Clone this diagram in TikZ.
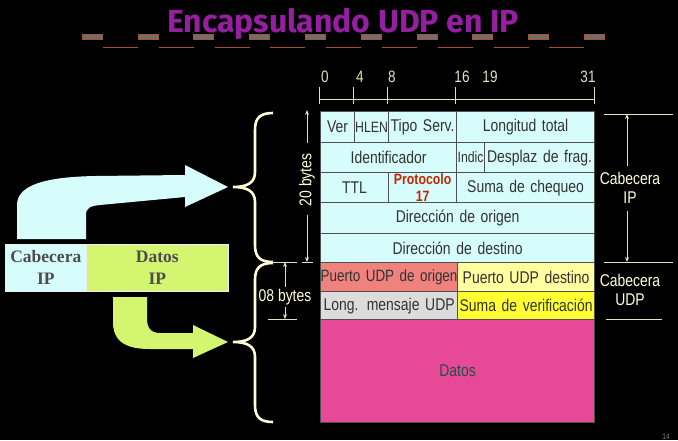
\documentclass[tikz,border=0pt]{standalone}
\usepackage{fontspec}
\setmainfont[FakeStretch=0.82]{Liberation Sans}
\newfontfamily\serifbold[FakeStretch=1.0]{Liberation Serif}
\newfontfamily\titlefont{Fira Sans}
\usetikzlibrary{arrows.meta}
\definecolor{hdrcyan}{RGB}{215,252,252}
\definecolor{greenish}{RGB}{212,245,112}
\definecolor{salmonc}{RGB}{240,130,125}
\definecolor{lightyel}{RGB}{255,255,160}
\definecolor{lgray}{RGB}{220,220,220}
\definecolor{yelc}{RGB}{255,255,50}
\definecolor{pinkd}{RGB}{232,72,152}
\definecolor{cellborder}{RGB}{80,80,80}
\definecolor{celltext}{RGB}{50,50,50}
\definecolor{cream}{RGB}{255,255,215}
\definecolor{khaki}{RGB}{225,225,190}
\definecolor{titlepurple}{RGB}{150,30,160}
\definecolor{dashgray}{RGB}{110,110,110}
\definecolor{dashbrown}{RGB}{160,85,55}
\definecolor{protred}{RGB}{190,40,0}
\definecolor{datostext}{RGB}{30,80,70}
\definecolor{boxtext}{RGB}{77,77,77}
\tikzset{
  cell/.style={draw=cellborder, line width=1.2pt, inner sep=0pt, anchor=north west,
    text=celltext, font=\fontsize{17}{19}\selectfont, align=center},
  cw/.style={minimum width=#1, text width=#1},
  ch/.style={minimum height=#1},
  lbl/.style={text=cream, font=\fontsize{17}{19}\selectfont, align=center, inner sep=0pt},
  rulenum/.style={text=khaki, font=\fontsize{16.5}{18}\selectfont, inner sep=0pt},
  dimline/.style={draw=khaki, line width=0.8pt},
  dimarrow/.style={draw=khaki, line width=0.8pt, -{Stealth[length=5pt,width=4pt]}},
  bracepath/.style={draw=cream, line width=2.6pt},
  ipbox/.style={draw=white!85!gray, line width=0.6pt, inner sep=0pt, anchor=north west,
    text=boxtext, font=\serifbold\bfseries\fontsize{17.5}{22}\selectfont, align=center, minimum height=47},
}
\begin{document}
\begin{tikzpicture}[x=1pt,y=-1pt]
\useasboundingbox (0,0) rectangle (678,440);
\fill[black] (0,0) rectangle (678,440);
% title
\node[font=\titlefont\bfseries\fontsize{32}{38}\selectfont, text=titlepurple, anchor=base, inner sep=0pt] (title) at (343,32) {Encapsulando UDP en IP};
\foreach \k in {0,...,9}{
  \fill[dashgray, draw=dashbrown, line width=0.5pt] ({82+55.8*\k},34.5) rectangle ({102+55.8*\k},39.5);
}
\foreach \k in {0,...,8}{
  \draw[dashbrown, line width=1.6pt] ({103+55.8*\k},47.5) -- ({138+55.8*\k},47.5);
}
% ruler
\coordinate (r0) at (319,99);
\coordinate (r31) at (594,99);
\draw[dimline] (r0) -- (r31);
\foreach \xx in {319,353,387,455,594}{
  \draw[dimline] (\xx,87) -- (\xx,104);
}
\node[rulenum] (n0) at (325,77) {0};
\node[rulenum] (n4) at (360,77) {4};
\node[rulenum] (n8) at (392,77) {8};
\node[rulenum] (n16) at (462,77) {16};
\node[rulenum] (n19) at (490,77) {19};
\node[rulenum] (n31) at (588,77) {31};
% table rows
\node[cell, fill=hdrcyan, cw=34, ch=31] (ver) at (320,111) {Ver};
\node[cell, fill=hdrcyan, cw=34, ch=31, font=\fontsize{15}{17}\selectfont] (hlen) at (354,111) {HLEN};
\node[cell, fill=hdrcyan, cw=68, ch=31] (tipo) at (388,111) {Tipo Serv.};
\node[cell, fill=hdrcyan, cw=138, ch=31] (long) at (456,111) {Longitud total};
\node[cell, fill=hdrcyan, cw=136, ch=30] (ident) at (320,142) {Identificador};
\node[cell, fill=hdrcyan, cw=28, ch=30, font=\fontsize{15}{17}\selectfont] (indic) at (456,142) {Indic};
\node[cell, fill=hdrcyan, cw=110, ch=30] (despl) at (484,142) {Desplaz de frag.};
\node[cell, fill=hdrcyan, cw=68, ch=30] (ttl) at (320,172) {TTL};
\node[cell, fill=hdrcyan, cw=68, ch=30, text=protred, font=\bfseries\fontsize{15}{17.5}\selectfont] (prot) at (388,172) {Protocolo\\17};
\node[cell, fill=hdrcyan, cw=138, ch=30] (suma) at (456,172) {Suma de chequeo};
\node[cell, fill=hdrcyan, cw=274, ch=31] (orig) at (320,202) {Dirección de origen};
\node[cell, fill=hdrcyan, cw=274, ch=29] (dest) at (320,233) {Dirección de destino};
\node[cell, fill=salmonc, cw=137, ch=29, font=\fontsize{16.4}{19}\selectfont] (puo) at (320,262) {\hbox to 137pt{\hss Puerto UDP de origen\hss}};
\node[cell, fill=lightyel, cw=137, ch=29] (pud) at (457,262) {Puerto UDP destino};
\node[cell, fill=lgray, cw=137, ch=28] (lmu) at (320,291) {Long. mensaje UDP};
\node[cell, fill=yelc, cw=137, ch=28] (sver) at (457,291) {\hbox to 137pt{\hss Suma de verificación\hss}};
\node[cell, fill=pinkd, cw=274, ch=103, text=datostext] (datos) at (320,319) {Datos};
% 20 bytes
\node[lbl, rotate=90] (b20) at (307,180) {20 bytes};
\coordinate (b20a) at (307,143);
\coordinate (b20top) at (307,110);
\coordinate (b20b) at (307,215);
\coordinate (b20bot) at (307,262);
\draw[dimarrow] (b20a) -- (b20top);
\draw[dimarrow] (b20b) -- (b20bot);
% 08 bytes
\node[lbl] (b08) at (285,297) {08 bytes};
\coordinate (b08a) at (285,287);
\coordinate (b08top) at (285,262);
\coordinate (b08b) at (285,307);
\coordinate (b08bot) at (285,319);
\draw[dimarrow] (b08a) -- (b08top);
\draw[dimarrow] (b08b) -- (b08bot);
\draw[dimline] (273,262) -- (297,262);
\draw[dimline] (302,262) -- (313,262);
\draw[dimline] (268,319) -- (297,319);
% right labels
\node[lbl] (capip) at (630,188) {Cabecera\\IP};
\coordinate (ipa) at (627,166);
\coordinate (iptop) at (627,114);
\coordinate (ipb) at (627,211);
\coordinate (ipbot) at (627,262);
\draw[dimarrow] (ipa) -- (iptop);
\draw[dimarrow] (ipb) -- (ipbot);
\draw[dimline] (604,114) -- (673,114);
\draw[dimline] (604,262) -- (673,262);
\node[lbl] (capudp) at (630,290) {Cabecera\\UDP};
\draw[dimline] (606,319) -- (662,319);
% braces
\draw[bracepath] (273,113) .. controls (260,113) and (255,118) .. (255,130) -- (255,172)
  .. controls (255,183) and (247,187) .. (233,187) .. controls (247,187) and (255,191) .. (255,202)
  -- (255,245) .. controls (255,257) and (260,262) .. (273,262);
\draw[bracepath] (273,263) .. controls (260,263) and (255,268) .. (255,280) -- (255,327)
  .. controls (255,338) and (247,342) .. (233,342) .. controls (247,342) and (255,346) .. (255,357)
  -- (255,405) .. controls (255,417) and (260,422) .. (273,422);
% big arrows
\fill[hdrcyan] (17,239) -- (17,205) .. controls (17,185) and (45,177) .. (95,176) -- (185,175)
  -- (185,165) -- (228,187) -- (185,207) -- (185,197) -- (100,205)
  .. controls (90,206) and (86,208) .. (86,215) -- (86,239) -- cycle;
\fill[greenish] (113,297) -- (113,322) .. controls (113,343) and (128,349) .. (150,349) -- (193,349)
  -- (193,358) -- (228,342) -- (193,325) -- (193,333) -- (160,333)
  .. controls (150,333) and (147,327) .. (147,318) -- (147,297) -- cycle;
% left boxes
\node[ipbox, fill=hdrcyan, minimum width=81] (cabip) at (5,244) {Cabecera\\IP};
\node[ipbox, fill=greenish, minimum width=142] (datip) at (86,244) {Datos\\IP};
% page number
\node[text=gray, font=\fontsize{8}{10}\selectfont, anchor=base, inner sep=0pt] (pnum) at (666,439) {14};
\end{tikzpicture}
\end{document}
